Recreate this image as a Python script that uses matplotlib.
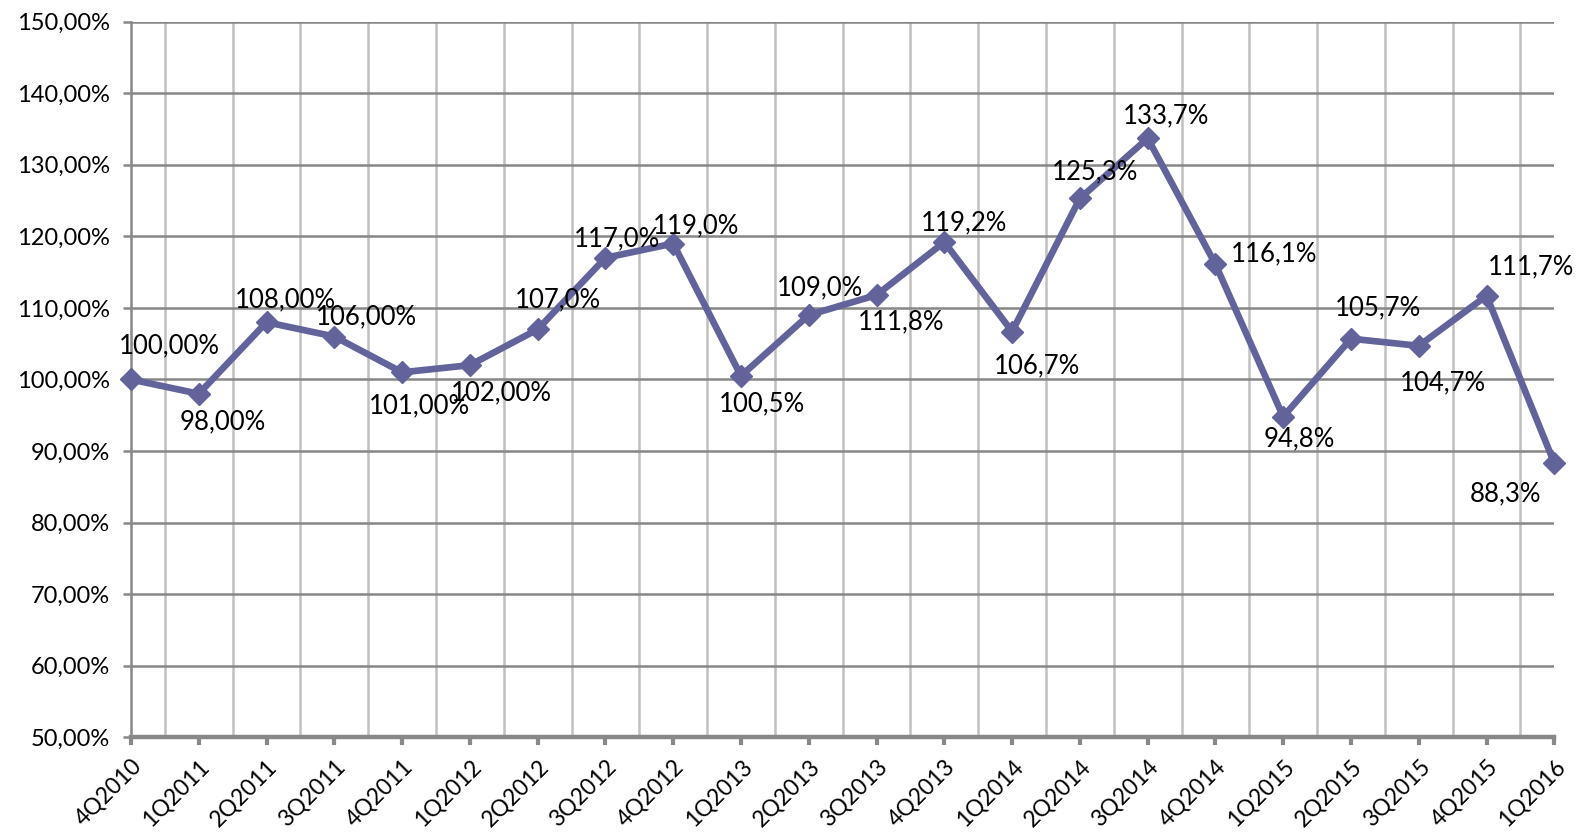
import numpy as np
import matplotlib
matplotlib.use('Agg')
import matplotlib.pyplot as plt
from matplotlib.ticker import MultipleLocator, FuncFormatter

# quarters and index values (percent)
quarters = ['4Q2010', '1Q2011', '2Q2011', '3Q2011', '4Q2011', '1Q2012', '2Q2012',
            '3Q2012', '4Q2012', '1Q2013', '2Q2013', '3Q2013', '4Q2013', '1Q2014',
            '2Q2014', '3Q2014', '4Q2014', '1Q2015', '2Q2015', '3Q2015', '4Q2015',
            '1Q2016']
values = [100.0, 98.0, 108.0, 106.0, 101.0, 102.0, 107.0, 117.0, 119.0, 100.5,
          109.0, 111.8, 119.2, 106.7, 125.3, 133.7, 116.1, 94.8, 105.7, 104.7,
          111.7, 88.3]
point_labels = ['100,00%', '98,00%', '108,00%', '106,00%', '101,00%', '102,00%',
                '107,0%', '117,0%', '119,0%', '100,5%', '109,0%', '111,8%', '119,2%',
                '106,7%', '125,3%', '133,7%', '116,1%', '94,8%', '105,7%', '104,7%',
                '111,7%', '88,3%']

# label centre offsets in pixels (dx right, dy up) from the point
offsets = [(38, 34), (24, -28), (19, 22), (32, 20), (17, -33), (31, -28),
           (20, 30), (12, 19), (23, 18), (21, -28), (11, 27), (25, -27),
           (20, 19), (25, -34), (15, 27), (18, 23), (59, 10), (16, -22),
           (27, 31), (24, -37), (44, 29), (-49, -31)]

plt.rcParams['font.family'] = ['Lato', 'DejaVu Sans']
line_col = '#62639a'

fig = plt.figure(figsize=(15.78, 8.34), dpi=100)
ax = fig.add_axes([0.083, 0.116, 0.902, 0.858])

x = np.arange(len(quarters))
ax.plot(x, values, color=line_col, lw=4.8, marker='D', markersize=11,
        markeredgecolor=line_col, markerfacecolor=line_col, zorder=5, clip_on=False)

px = 72.0 / 100
for xi, v, lab, (dx, dy) in zip(x, values, point_labels, offsets):
    ax.annotate(lab, (xi, v), xytext=(dx * px, dy * px), textcoords='offset points',
                ha='center', va='center', fontsize=18.5, color='black', zorder=6)

ax.set_xlim(0, len(quarters) - 1)
ax.set_ylim(50, 150)
ax.yaxis.set_major_locator(MultipleLocator(10))
ax.yaxis.set_major_formatter(FuncFormatter(lambda v, p: f'{v:.2f}'.replace('.', ',') + '%'))

ax.set_xticks(x)
ax.set_xticklabels(quarters, rotation=45, ha='right', rotation_mode='anchor', fontsize=16.5)
ax.set_xticks(x[:-1] + 0.5, minor=True)
ax.tick_params(axis='x', which='minor', length=0)
ax.tick_params(axis='x', which='major', length=6, width=3, color='#888888', pad=7)
ax.tick_params(axis='y', length=6, width=1.8, color='#888888', labelsize=17, pad=9)

ax.grid(axis='y', which='major', color='#878787', lw=1.8, zorder=0)
ax.grid(axis='x', which='minor', color='#c0c0c0', lw=1.8, zorder=0)
ax.set_axisbelow(True)

for s in ['top', 'right']:
    ax.spines[s].set_visible(False)
ax.spines['left'].set_color('#888888')
ax.spines['left'].set_linewidth(1.8)
ax.spines['bottom'].set_color('#888888')
ax.spines['bottom'].set_linewidth(3.2)

fig.savefig('out.png', dpi=100, facecolor='white')
